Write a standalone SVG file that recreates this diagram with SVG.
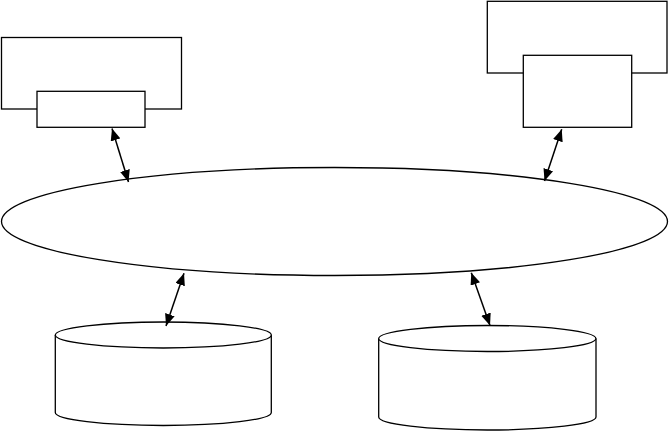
<svg xmlns="http://www.w3.org/2000/svg" width="669" height="431" viewBox="0 0 669 431">
<style>
.s{fill:#fff;stroke:#000;stroke-width:1.3}
.c{fill:none;stroke:#000;stroke-width:1.5}
</style>
<defs>
<marker id="ah" viewBox="0 0 12 10" refX="12" refY="5" markerWidth="12" markerHeight="10" markerUnits="userSpaceOnUse" orient="auto-start-reverse">
<path d="M0,0 L12,5 L0,10 z" fill="#000"/>
</marker>
</defs>
<rect width="669" height="431" fill="#fff"/>
<g id="client-left">
<rect class="s" x="1.5" y="37.5" width="180" height="71.5"/>
<rect class="s" x="37" y="91.3" width="108" height="36"/>
</g>
<g id="client-right">
<rect class="s" x="487.3" y="1.3" width="179.7" height="71.7"/>
<rect class="s" x="523.3" y="55.3" width="108.4" height="72"/>
</g>
<g id="network">
<ellipse class="s" cx="334.5" cy="221.5" rx="333" ry="54"/>
</g>
<g id="db-left">
<path class="s" d="M55.3,335 L55.3,412.5 A108,13 0 0 0 271.3,412.5 L271.3,335"/>
<ellipse class="s" cx="163.3" cy="335" rx="108" ry="13"/>
</g>
<g id="db-right">
<path class="s" d="M378.7,338.5 L378.7,417 A108.6,13 0 0 0 596,417 L596,338.5"/>
<ellipse class="s" cx="487.3" cy="338.5" rx="108.6" ry="13"/>
</g>
<g id="connectors">
<line class="c" x1="112" y1="128.5" x2="128.5" y2="182" marker-start="url(#ah)" marker-end="url(#ah)"/>
<line class="c" x1="561.7" y1="129.3" x2="544.5" y2="181" marker-start="url(#ah)" marker-end="url(#ah)"/>
<line class="c" x1="184" y1="273.3" x2="166" y2="326" marker-start="url(#ah)" marker-end="url(#ah)"/>
<line class="c" x1="471.3" y1="272.7" x2="490" y2="325.5" marker-start="url(#ah)" marker-end="url(#ah)"/>
</g>
</svg>
